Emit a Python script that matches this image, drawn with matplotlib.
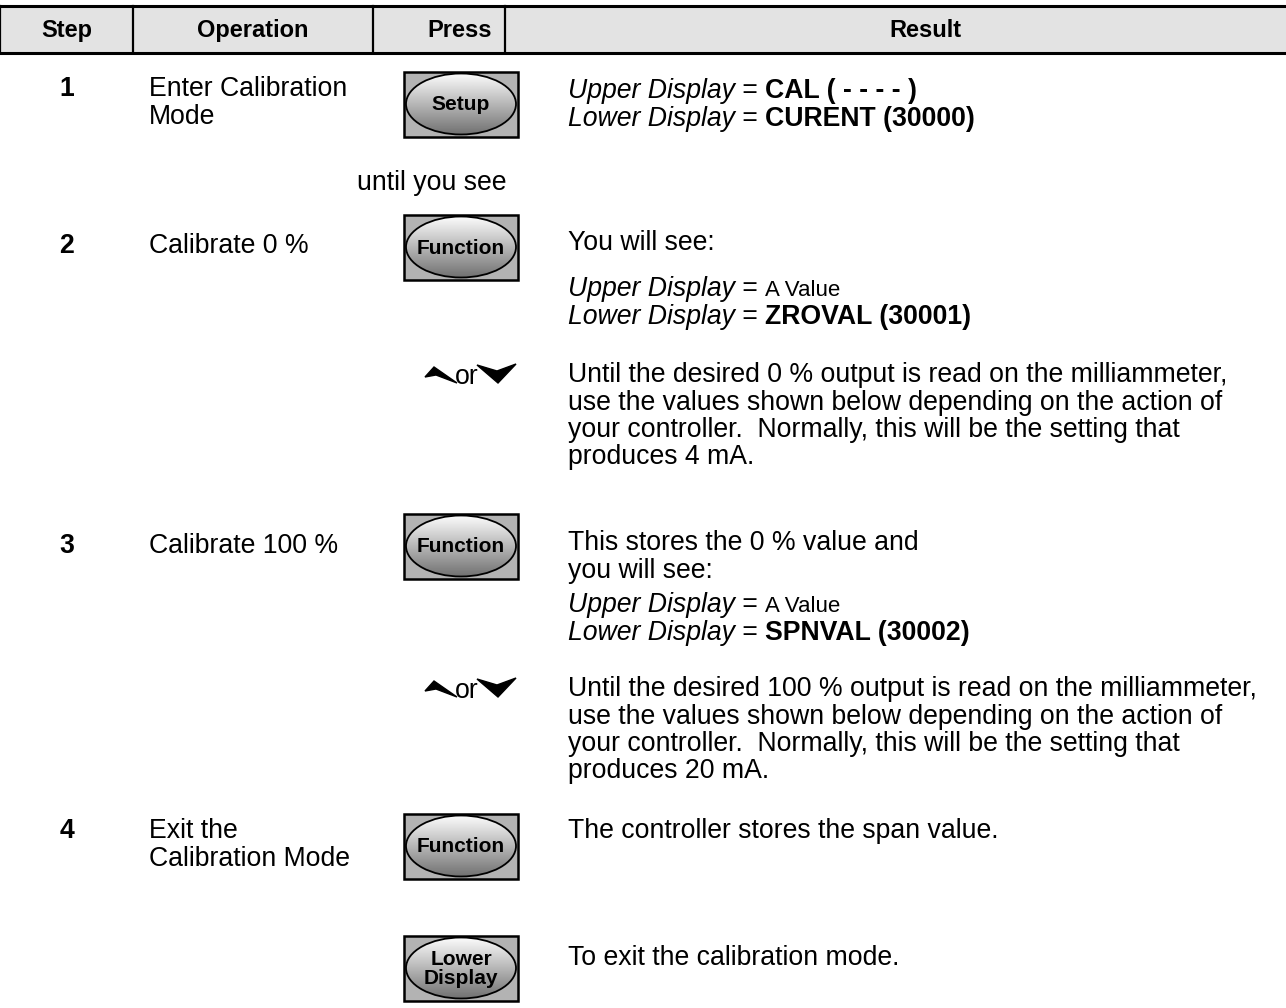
import numpy as np
import matplotlib
matplotlib.use("Agg")
import matplotlib.pyplot as plt
from matplotlib.patches import Rectangle, Ellipse, Polygon

plt.rcParams['font.family'] = ['Liberation Sans', 'DejaVu Sans']

# table content
headers = ["Step", "Operation", "Press", "Result"]
steps = ["1", "2", "3", "4"]
operations = ["Enter Calibration\nMode", "Calibrate 0 %", "Calibrate 100 %",
              "Exit the\nCalibration Mode"]
buttons = ["Setup", "Function", "Function", "Function", "Lower\nDisplay"]

# result text, one list of (text, style) runs per line
res_step1 = [[("Upper Display", "i"), (" = ", "n"), ("CAL ( - - - - )", "b")],
             [("Lower Display", "i"), (" = ", "n"), ("CURENT (30000)", "b")]]
res_step2 = [[("You will see:", "n")]]
res_step2b = [[("Upper Display", "i"), (" = ", "n"), ("A Value", "s")],
              [("Lower Display", "i"), (" = ", "n"), ("ZROVAL (30001)", "b")]]
res_arrow0 = ["Until the desired 0 % output is read on the milliammeter,",
              "use the values shown below depending on the action of",
              "your controller.  Normally, this will be the setting that",
              "produces 4 mA."]
res_step3 = [[("This stores the 0 % value and", "n")], [("you will see:", "n")]]
res_step3b = [[("Upper Display", "i"), (" = ", "n"), ("A Value", "s")],
              [("Lower Display", "i"), (" = ", "n"), ("SPNVAL (30002)", "b")]]
res_arrow100 = ["Until the desired 100 % output is read on the milliammeter,",
                "use the values shown below depending on the action of",
                "your controller.  Normally, this will be the setting that",
                "produces 20 mA."]
res_step4 = "The controller stores the span value."
res_exit = "To exit the calibration mode."
until_text = "until you see"

# layout (pixels)
W, H = 1286, 1008
col_edges = [0, 133, 373, 505, W]
head_x = [67, 253, 460, 925]
head_top, head_bot = 6, 53
x_step = 67
x_op = 149
x_press = 461
x_res = 568
fs = 19.2
line_h = 27.5

fig = plt.figure(figsize=(W / 100, H / 100), dpi=100)
ax = fig.add_axes([0, 0, 1, 1])
ax.set_xlim(0, W)
ax.set_ylim(H, 0)
ax.axis('off')
renderer = fig.canvas.get_renderer()

# header
ax.add_patch(Rectangle((0, head_top), W, head_bot - head_top, facecolor='#e3e3e3',
                       edgecolor='none', zorder=1))
ax.plot([0, W], [head_top, head_top], color='black', lw=2.2, zorder=2)
ax.plot([0, W], [head_bot, head_bot], color='black', lw=2.2, zorder=2)
for xe in col_edges[:-1]:
    ax.plot([xe, xe], [head_top, head_bot], color='black', lw=1.6, zorder=2)
for hx, h in zip(head_x, headers):
    ax.text(hx, (head_top + head_bot) / 2 + 1, h,
            ha='center', va='center', fontsize=17, fontweight='bold')

grad = np.linspace(0.99, 0.45, 100).reshape(-1, 1)


def button(cx, cy, label, w=114, h=65):
    x0, y0 = cx - w / 2, cy - h / 2
    ax.add_patch(Rectangle((x0, y0), w, h, facecolor='#b3b3b3', edgecolor='black',
                           lw=1.8, zorder=3))
    ell = Ellipse((cx, cy), w - 4, h - 4, facecolor='none', edgecolor='black',
                  lw=1.3, zorder=5)
    ax.add_patch(ell)
    im = ax.imshow(grad, cmap='gray', vmin=0, vmax=1, aspect='auto',
                   extent=[x0, x0 + w, y0 + h - 2, y0 + 2], origin='upper', zorder=4)
    im.set_clip_path(ell)
    ax.text(cx, cy + 1, label, ha='center', va='center', fontsize=15,
            fontweight='bold', linespacing=1.0, zorder=6)


def arrows(y):
    ax.add_patch(Polygon([(425, y + 1), (434, y - 9), (457, y + 7), (436, y - 1)],
                         closed=True, color='black', zorder=3))
    ax.text(455, y + 8, "or", ha='left', va='baseline', fontsize=fs)
    ax.add_patch(Polygon([(477, y - 11), (497, y - 5), (516, y - 12), (498, y + 7)],
                         closed=True, color='black', zorder=3))


styles = {"n": dict(fontsize=fs), "i": dict(fontsize=fs, fontstyle='italic'),
          "b": dict(fontsize=fs, fontweight='bold'), "s": dict(fontsize=16)}


def rich_lines(x, y, lines):
    for k, parts in enumerate(lines):
        xx = x
        yy = y + k * line_h + 8
        for txt, st in parts:
            ax.text(xx, yy, txt, ha='left', va='baseline', **styles[st])
            bar = ax.text(0, 0, "|", **styles[st])
            both = ax.text(0, 0, txt + "|", **styles[st])
            wid = both.get_window_extent(renderer).width - bar.get_window_extent(renderer).width
            bar.remove()
            both.remove()
            xx += wid


def plain_lines(x, y, lines):
    rich_lines(x, y, [[(s, "n")] for s in lines])


# row positions (centers of first text line)
row_y = [88, 245, 545, 830]
for s, op, y in zip(steps, operations, row_y):
    ax.text(x_step, y + 8, s, ha='center', va='baseline', fontsize=fs, fontweight='bold')
    for k, ln in enumerate(op.split("\n")):
        ax.text(x_op, y + 8 + k * line_h, ln, ha='left', va='baseline', fontsize=fs)

# step 1
button(x_press, 104, buttons[0])
rich_lines(x_res, 90, res_step1)
ax.text(432, 182 + 8, until_text, ha='center', va='baseline', fontsize=fs)

# step 2
button(x_press, 247, buttons[1])
rich_lines(x_res, 242, res_step2)
rich_lines(x_res, 288, res_step2b)
arrows(376)
plain_lines(x_res, 374, res_arrow0)

# step 3
button(x_press, 546, buttons[2])
rich_lines(x_res, 542, res_step3)
rich_lines(x_res, 604, res_step3b)
arrows(690)
plain_lines(x_res, 688, res_arrow100)

# step 4
button(x_press, 846, buttons[3])
plain_lines(x_res, 830, [res_step4])
button(x_press, 968, buttons[4])
plain_lines(x_res, 957, [res_exit])

ax.set_xlim(0, W)
ax.set_ylim(H, 0)
fig.savefig("out.png", dpi=100)
